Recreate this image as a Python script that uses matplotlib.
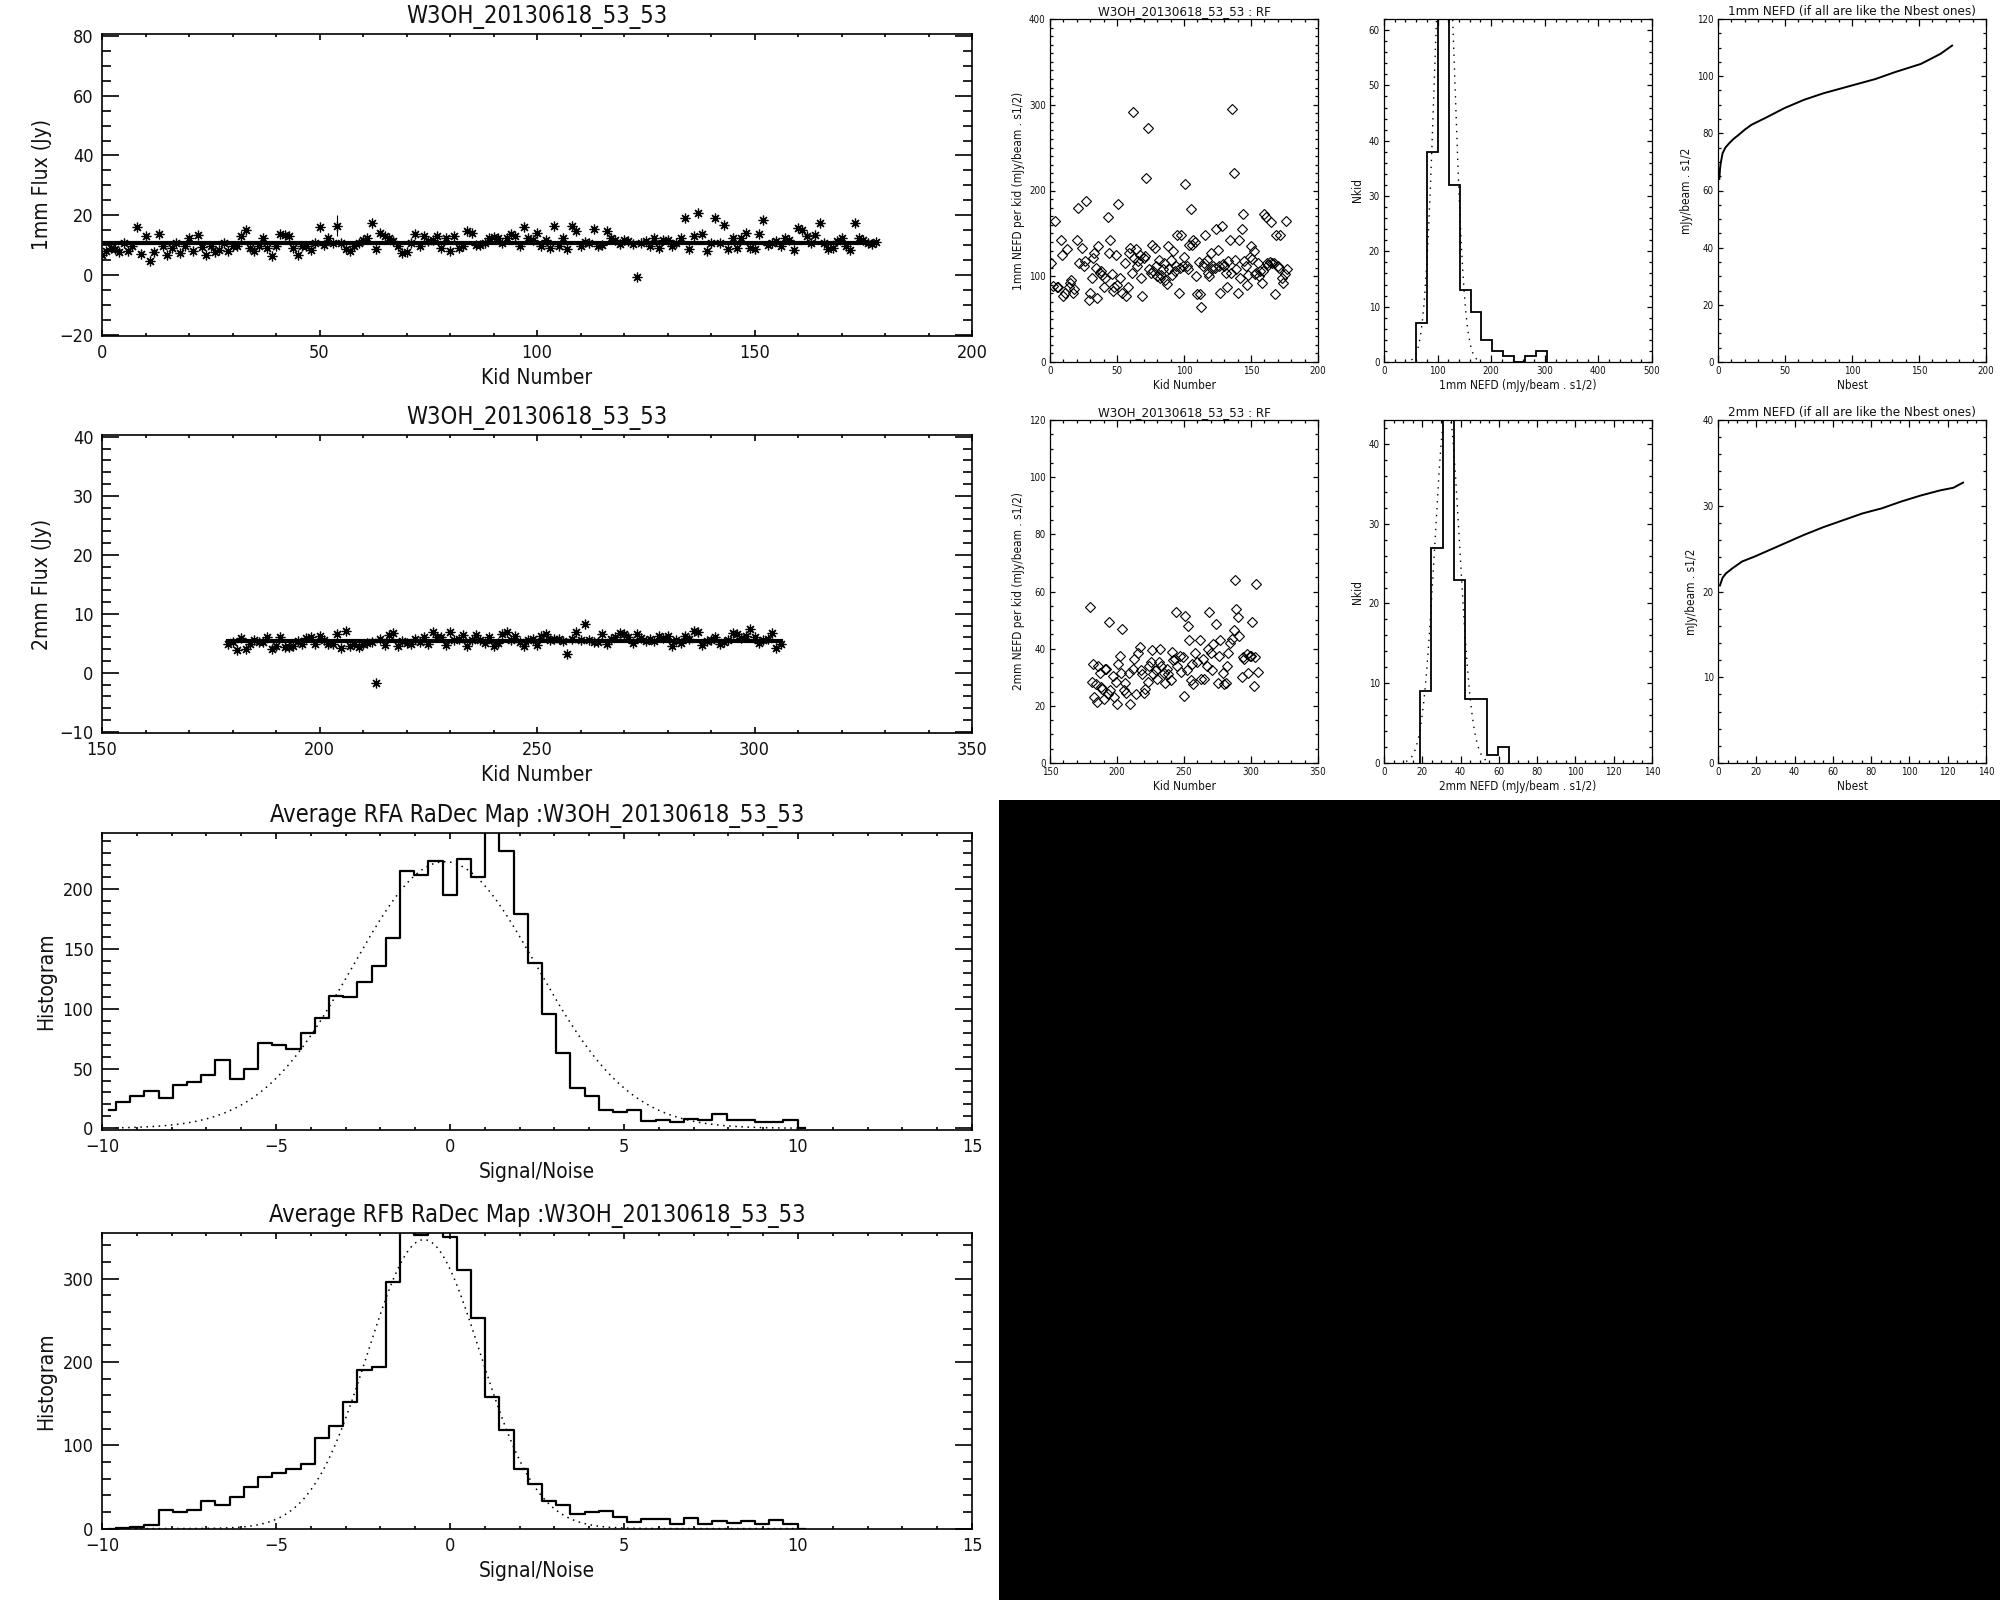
import numpy as np
import matplotlib
matplotlib.use('Agg')
import matplotlib.pyplot as plt
from matplotlib.ticker import MultipleLocator
from matplotlib.patches import Rectangle

plt.rcParams['font.family'] = ['DejaVu Sans']
plt.rcParams['font.stretch'] = 'condensed'

SRC = "W3OH_20130618_53_53"

# ---------------- 1mm flux per kid ----------------
kid1 = list(range(0, 179))
flux1 = [6.5, 8.0, 9.0, 8.5, 7.5, 10.8, 8.0, 9.5, 16.0, 7.0,
         13.0, 4.7, 7.8, 13.7, 9.5, 6.7, 9.0, 10.6, 7.2, 9.7,
         12.3, 8.1, 13.4, 9.3, 6.7, 9.7, 7.8, 8.4, 10.6, 8.1,
         9.7, 9.5, 13.1, 15.1, 9.0, 8.1, 9.7, 12.3, 9.0, 6.4,
         9.5, 13.8, 13.4, 13.1, 9.0, 6.7, 9.7, 9.5, 8.4, 10.8,
         16.0, 10.0, 12.3, 10.8, 16.5, 10.5, 8.6, 8.1, 9.5, 10.6,
         11.8, 12.3, 17.2, 8.6, 14.0, 12.9, 12.3, 11.5, 9.5, 7.2,
         7.8, 10.6, 13.7, 9.7, 12.9, 11.2, 11.8, 12.9, 9.0, 12.3,
         8.1, 12.9, 9.0, 9.5, 14.8, 14.0, 10.0, 10.0, 10.6, 12.3,
         12.7, 12.3, 10.6, 12.3, 13.8, 12.9, 9.5, 16.0, 12.3, 11.8,
         14.0, 9.7, 11.8, 9.0, 16.5, 9.7, 12.3, 8.6, 16.5, 14.6,
         9.7, 10.9, 10.7, 15.4, 9.5, 10.0, 14.6, 12.3, 11.8, 10.4,
         11.8, 11.2, 10.4, -0.7, 10.8, 11.5, 9.5, 12.3, 9.0, 11.8,
         11.8, 9.5, 10.6, 12.3, 19.1, 8.6, 12.9, 20.8, 13.8, 8.1,
         10.6, 19.1, 10.6, 16.8, 8.6, 12.3, 9.0, 12.3, 14.0, 9.0,
         8.6, 13.8, 18.5, 10.0, 10.6, 11.2, 9.5, 12.3, 11.8, 8.4,
         15.7, 15.1, 12.9, 10.8, 13.4, 17.4, 10.8, 8.6, 9.0, 11.2,
         12.3, 9.5, 8.4, 17.4, 12.3, 11.8, 10.8, 10.4, 11.0]
flux1_mean = 10.8
err1_kid = [54]
err1_val = [16.5]
err1_size = [3.6]

# ---------------- 2mm flux per kid ----------------
kid2 = list(range(179, 307))
flux2 = [4.8, 5.3, 3.9, 5.9, 4.0, 4.8, 5.5, 5.2, 5.2, 6.0,
         4.1, 4.6, 6.1, 4.3, 4.3, 4.6, 5.4, 4.9, 5.9, 6.1,
         4.9, 6.3, 5.5, 4.9, 4.8, 6.5, 4.2, 7.1, 4.6, 4.9,
         4.4, 4.8, 5.0, 5.3, -1.7, 5.8, 4.7, 6.4, 6.8, 4.5,
         5.4, 5.1, 4.8, 5.8, 5.2, 6.0, 4.9, 7.0, 6.1, 6.0,
         4.7, 7.0, 5.6, 5.8, 6.4, 4.5, 5.5, 6.4, 5.6, 5.0,
         6.0, 4.6, 5.0, 6.5, 6.9, 5.6, 6.3, 5.2, 4.6, 5.6,
         5.7, 4.7, 6.3, 6.5, 5.5, 5.8, 5.8, 5.4, 3.2, 5.7,
         6.9, 5.5, 8.2, 5.5, 5.2, 5.3, 6.5, 4.9, 5.7, 6.0,
         6.8, 6.6, 6.1, 5.0, 6.6, 5.9, 5.4, 5.8, 5.4, 6.3,
         5.9, 6.3, 4.6, 5.6, 5.0, 6.2, 5.7, 7.1, 7.0, 4.7,
         5.4, 5.6, 6.0, 4.9, 5.2, 5.6, 6.8, 6.6, 5.9, 6.2,
         7.4, 6.0, 5.1, 5.5, 5.8, 6.7, 4.2, 4.8]
flux2_mean = 5.4

# ---------------- RF NEFD per kid ----------------
rf1_kid = [1, 2, 4, 5, 6, 8, 9, 10, 11, 13, 14, 16, 17, 18, 20, 21, 22, 24, 25, 27,
           29, 30, 31, 32, 33, 35, 36, 37, 38, 40, 41, 43, 44, 45, 47, 48, 49, 51, 52, 54,
           56, 57, 59, 60, 61, 62, 63, 65, 67, 68, 69, 70, 72, 73, 74, 75, 76, 78, 79, 81,
           82, 84, 85, 86, 88, 89, 90, 92, 93, 95, 96, 98, 99, 100, 101, 102, 104, 105, 106, 107,
           109, 110, 112, 113, 114, 116, 117, 119, 120, 122, 124, 125, 127, 128, 130, 131, 132, 134, 136, 137,
           138, 140, 141, 143, 144, 146, 147, 149, 150, 152, 154, 155, 157, 158, 160, 161, 162, 163, 165, 166,
           168, 169, 170, 172, 173, 174, 176,
           15, 26, 34, 39, 46, 50, 58, 64, 66, 71, 77, 80, 83, 87, 91, 94, 97, 103, 108, 111,
           115, 118, 121, 123, 126, 129, 133, 135, 139, 142, 145, 148, 151, 153, 156, 159, 164, 167, 171, 175, 177]
rf1_nefd = [115, 89, 165, 88, 88, 142, 125, 77, 81, 132, 88, 96, 81, 85, 142, 180, 115, 133, 112, 188,
            72, 81, 98, 121, 127, 75, 135, 104, 106, 87, 98, 169, 127, 142, 83, 88, 125, 184, 98, 81,
            115, 77, 127, 133, 104, 292, 121, 112, 125, 98, 77, 121, 214, 273, 108, 104, 136, 133, 112, 119,
            98, 108, 115, 96, 135, 108, 119, 129, 106, 148, 81, 148, 112, 123, 208, 112, 136, 178, 136, 142,
            100, 79, 79, 64, 112, 148, 119, 100, 127, 112, 155, 131, 81, 159, 112, 104, 88, 142, 295, 220,
            119, 81, 142, 155, 173, 112, 90, 123, 135, 129, 104, 115, 106, 92, 173, 169, 115, 113, 163, 115,
            79, 148, 112, 148, 98, 92, 165,
            92, 118, 110, 101, 103, 90, 88, 132, 118, 124, 106, 100, 102, 91, 102, 112, 110, 109, 140, 117,
            115, 104, 108, 110, 112, 114, 118, 104, 108, 98, 118, 101, 120, 103, 100, 106, 117, 116, 110, 103, 108]

rf2_kid = [180, 181, 182, 183, 184, 185, 186, 187, 188, 189, 190, 191, 192, 193, 194, 195, 197, 198, 199, 200,
           201, 202, 203, 204, 205, 206, 207, 209, 210, 212, 213, 214, 216, 217, 218, 219, 220, 221, 223, 224,
           225, 226, 227, 229, 230, 231, 232, 233, 235, 236, 237, 238, 240, 241, 242, 243, 244, 245, 247, 248,
           249, 250, 251, 252, 253, 254, 255, 256, 257, 258, 260, 262, 263, 264, 265, 267, 268, 269, 270, 271,
           272, 274, 275, 276, 277, 279, 280, 281, 282, 283, 284, 286, 287, 288, 289, 290, 291, 293, 294, 295,
           297, 298, 299, 300, 301, 302, 303, 304, 305]
rf2_nefd = [54.5, 28.5, 34.5, 23.0, 27.5, 21.5, 34.0, 31.5, 26.5, 26.0, 22.5, 33.0, 33.0, 24.0, 49.5, 25.5, 30.5, 23.0, 28.5, 20.5,
            34.5, 37.5, 31.5, 47.0, 25.5, 28.0, 24.5, 31.5, 20.5, 33.0, 36.5, 24.0, 38.5, 40.5, 32.5, 31.0, 24.5, 26.0, 28.5, 34.0,
            35.5, 39.5, 31.0, 32.5, 29.5, 35.5, 40.0, 34.0, 31.5, 28.0, 33.0, 31.0, 29.0, 39.0, 36.0, 36.5, 53.0, 34.0, 37.5, 32.0,
            37.0, 23.3, 51.5, 32.5, 48.0, 43.0, 29.0, 34.5, 27.5, 38.5, 35.5, 43.0, 29.5, 36.5, 29.5, 34.0, 40.0, 52.8, 38.5, 32.5,
            41.5, 48.5, 28.0, 37.5, 43.0, 31.5, 27.5, 28.0, 34.0, 38.5, 42.0, 43.5, 46.5, 64.0, 53.8, 51.0, 44.5, 30.0, 37.0, 36.5,
            38.0, 31.5, 37.5, 37.5, 49.5, 27.0, 37.0, 62.5, 32.0]

# ---------------- NEFD histograms ----------------
h1_edges = [60, 80.3, 100.6, 120.9, 141.2, 161.5, 181.8, 202.1, 222.4, 242.7, 263.0, 283.3, 303.6]
h1_counts = [7, 38, 69, 32, 13, 9, 4, 2, 1, 0, 1, 2]
h1_gauss = (86.0, 113.0, 18.7)   # amplitude, mean, sigma

h2_edges = [19.0, 24.8, 30.6, 36.4, 42.2, 48.0, 53.8, 59.6, 65.4]
h2_counts = [9, 27, 50, 23, 8, 8, 1, 2]
h2_gauss = (45.0, 33.0, 6.5)

# ---------------- NEFD vs Nbest ----------------
nbest1 = [1, 1.5, 2, 3.4, 5.5, 8.3, 11.5, 15.5, 20, 25, 35, 49.5, 64, 78.6, 98, 117.5, 132, 151.5, 166, 174.7]
nefd1 = [64, 67.5, 69.5, 73, 75, 76.5, 78, 79.5, 81.3, 83, 85.3, 88.8, 91.7, 94, 96.5, 99, 101.4, 104.3, 107.8, 110.7]
nbest2 = [1, 2.4, 4.1, 7.5, 12.6, 19.4, 24.5, 34.7, 44.9, 55, 65.2, 75.4, 85.6, 95.8, 106, 116.2, 123, 128]
nefd2 = [20.7, 21.6, 22.1, 22.7, 23.5, 24.1, 24.6, 25.6, 26.6, 27.5, 28.3, 29.1, 29.7, 30.5, 31.2, 31.8, 32.1, 32.7]

# ---------------- Signal/Noise histograms ----------------
sn_start, sn_step = -9.8, 0.408
rfa_hist = [15, 22, 27, 31, 25, 36, 39, 45, 57, 41, 50, 71, 70, 66, 80, 92, 111, 110, 122, 136,
            159, 215, 212, 224, 195, 225, 210, 265, 232, 179, 138, 96, 63, 34, 27, 15, 14, 15, 6, 7,
            5, 8, 7, 12, 7, 7, 5, 5, 7, 0]
rfb_hist = [0, 1, 2, 4, 22, 20, 22, 33, 28, 38, 50, 62, 67, 72, 78, 109, 123, 152, 190, 194,
            296, 360, 353, 358, 350, 310, 253, 158, 119, 71, 54, 33, 28, 18, 20, 21, 14, 8, 12, 12,
            6, 13, 6, 9, 7, 9, 5, 10, 5, 0]
rfa_gauss = (223.0, -0.15, 2.65)
rfb_gauss = (347.0, -0.75, 1.62)

# =====================================================================
W, H = 2000, 1600
fig = plt.figure(figsize=(20, 16), dpi=100)
fig.patch.set_facecolor('white')
PT = 0.72  # points per pixel at dpi 100
TXT = '#111111'


def axes_px(x0, y0, x1, y1):
    return fig.add_axes([x0 / W, 1 - y1 / H, (x1 - x0) / W, (y1 - y0) / H])


def style(ax, xmaj, xmin, ymaj, ymin, big=True):
    ax.xaxis.set_major_locator(MultipleLocator(xmaj))
    ax.xaxis.set_minor_locator(MultipleLocator(xmin))
    ax.yaxis.set_major_locator(MultipleLocator(ymaj))
    ax.yaxis.set_minor_locator(MultipleLocator(ymin))
    bb = ax.get_position()
    wpx, hpx = bb.width * W, bb.height * H
    # IDL style: tick length is a fraction of the perpendicular plot size
    ylen, xlen = 0.02 * wpx * PT, 0.02 * hpx * PT
    if big:
        fs, lw = 13, 1.2
    else:
        fs, lw = 7, 0.9
    ax.tick_params(which='both', direction='in', top=True, right=True,
                   width=lw, colors='black', labelcolor=TXT, labelsize=fs, pad=6 if big else 3)
    ax.tick_params(axis='y', which='major', length=ylen)
    ax.tick_params(axis='y', which='minor', length=ylen / 2)
    ax.tick_params(axis='x', which='major', length=xlen)
    ax.tick_params(axis='x', which='minor', length=xlen / 2)
    for sp in ax.spines.values():
        sp.set_linewidth(lw)


DOT = (0, (1, 3))
AST = (8, 2, 0)

# ---- Panel 1: 1mm flux ----
ax = axes_px(102, 34, 972, 336)
ax.plot(kid1, flux1, linestyle='none', marker=AST, ms=7, mew=0.9, color='black')
ax.errorbar(err1_kid, err1_val, yerr=err1_size, fmt='none', ecolor='black', elinewidth=0.8)
ax.plot([kid1[0], kid1[-1]], [flux1_mean, flux1_mean], color='black', lw=3)
ax.set_xlim(0, 200)
ax.set_ylim(-20.5, 80.7)
style(ax, 50, 10, 20, 5)
ax.set_title(SRC, fontsize=17, pad=8, color=TXT)
ax.set_xlabel("Kid Number", fontsize=15, labelpad=4, color=TXT)
ax.set_ylabel("1mm Flux (Jy)", fontsize=15, labelpad=5, color=TXT)

# ---- Panel 2: 2mm flux ----
ax = axes_px(102, 435, 972, 733)
ax.plot(kid2, flux2, linestyle='none', marker=AST, ms=7, mew=0.9, color='black')
ax.plot([kid2[0], kid2[-1]], [flux2_mean, flux2_mean], color='black', lw=3)
ax.set_xlim(150, 350)
ax.set_ylim(-10.2, 40.3)
style(ax, 50, 10, 10, 2)
ax.set_title(SRC, fontsize=17, pad=8, color=TXT)
ax.set_xlabel("Kid Number", fontsize=15, labelpad=4, color=TXT)
ax.set_ylabel("2mm Flux (Jy)", fontsize=15, labelpad=5, color=TXT)

# ---- Panels 3/4: Signal/Noise histograms ----
sn_centers = [sn_start + i * sn_step for i in range(len(rfa_hist))]
gx = np.linspace(-9.6, 10.0, 400)
for (y0, y1, hist, gpar, lab, ylim, ymaj, ymin) in [
        (833, 1130, rfa_hist, rfa_gauss, "RFA", (-1.4, 247), 50, 10),
        (1233, 1529, rfb_hist, rfb_gauss, "RFB", (-0.5, 355), 100, 20)]:
    ax = axes_px(102, y0, 972, y1)
    ax.step(sn_centers, hist, where='mid', color='black', lw=1.6)
    A, mu, sg = gpar
    ax.plot(gx, A * np.exp(-(gx - mu) ** 2 / (2 * sg ** 2)), color='black', lw=1.1, linestyle=DOT)
    ax.set_xlim(-10, 15)
    ax.set_ylim(*ylim)
    style(ax, 5, 1, ymaj, ymin)
    ax.set_title("Average %s RaDec Map :%s" % (lab, SRC), fontsize=17, pad=8, color=TXT)
    ax.set_xlabel("Signal/Noise", fontsize=15, labelpad=4, color=TXT)
    ax.set_ylabel("Histogram", fontsize=15, labelpad=5, color=TXT)

# ---- Right panels ----
cols = [(1050, 1318), (1384, 1652), (1718, 1986)]
rows = [(19, 362), (420, 763)]

for r, (band, rk, rv, rxlim, rylim, rymaj, rymin,
        hed, hcnt, hg, hxlim, hylim, hxmaj, hxmin,
        nb, nf, nxlim, nylim, nxmaj, nxmin, nymaj, nymin) in enumerate([
        ("1mm", rf1_kid, rf1_nefd, (0, 200), (0, 400), 100, 10,
         h1_edges, h1_counts, h1_gauss, (0, 500), (0, 62), 100, 20,
         nbest1, nefd1, (0, 200), (0, 120), 50, 10, 20, 5),
        ("2mm", rf2_kid, rf2_nefd, (150, 350), (0, 120), 20, 5,
         h2_edges, h2_counts, h2_gauss, (0, 140), (0, 43), 20, 5,
         nbest2, nefd2, (0, 140), (0, 40), 20, 5, 10, 2)]):
    yt, yb = rows[r]
    # scatter
    ax = axes_px(cols[0][0], yt, cols[0][1], yb)
    ax.plot(rk, rv, linestyle='none', marker='D', ms=5, mfc='none', mec='black', mew=0.8)
    ax.set_xlim(*rxlim)
    ax.set_ylim(*rylim)
    style(ax, 50, 10, rymaj, rymin, big=False)
    ax.set_title("%s : RF" % SRC, fontsize=9.5, pad=3, color=TXT)
    ax.set_xlabel("Kid Number", fontsize=8.5, labelpad=2, color=TXT)
    ax.set_ylabel("%s NEFD per kid (mJy/beam . s1/2)" % band, fontsize=8.5, labelpad=3, color=TXT)
    # histogram
    ax = axes_px(cols[1][0], yt, cols[1][1], yb)
    ax.stairs(hcnt, hed, color='black', lw=1.3, baseline=0)
    A, mu, sg = hg
    hx = np.linspace(mu - 3.3 * sg, mu + 3.3 * sg, 300)
    ax.plot(hx, A * np.exp(-(hx - mu) ** 2 / (2 * sg ** 2)), color='black', lw=1.0, linestyle=(0, (1, 4)))
    ax.set_xlim(*hxlim)
    ax.set_ylim(*hylim)
    style(ax, hxmaj, hxmin, 10, 2, big=False)
    ax.set_xlabel("%s NEFD (mJy/beam . s1/2)" % band, fontsize=8.5, labelpad=2, color=TXT)
    ax.set_ylabel("Nkid", fontsize=8.5, labelpad=3, color=TXT)
    # NEFD vs Nbest
    ax = axes_px(cols[2][0], yt, cols[2][1], yb)
    ax.plot(nb, nf, color='black', lw=1.4)
    ax.set_xlim(*nxlim)
    ax.set_ylim(*nylim)
    style(ax, nxmaj, nxmin, nymaj, nymin, big=False)
    ax.set_title("%s NEFD (if all are like the Nbest ones)" % band, fontsize=9.5, pad=3, color=TXT)
    ax.set_xlabel("Nbest", fontsize=8.5, labelpad=2, color=TXT)
    ax.set_ylabel("mJy/beam . s1/2", fontsize=8.5, labelpad=3, color=TXT)

# black lower-right block
fig.add_artist(Rectangle((999 / W, 0), 1 - 999 / W, 800 / H, transform=fig.transFigure,
                         facecolor='black', edgecolor='none', zorder=10))

fig.savefig("out.png", dpi=100, facecolor='white')
